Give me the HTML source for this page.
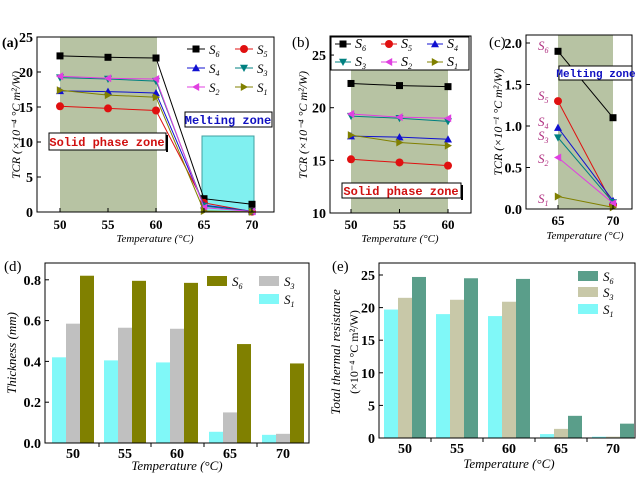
<!DOCTYPE html>
<html><head><meta charset="utf-8"><style>
body{margin:0;background:#fff}
svg{display:block}
text{font-family:"Liberation Serif",serif;font-weight:bold;fill:#000}
.it{font-style:italic;font-weight:normal}
</style></head><body>
<svg id="s" width="643" height="493" viewBox="0 0 643 493" xmlns="http://www.w3.org/2000/svg"></svg>
<script>
const S=document.getElementById('s');let h='';
const C={6:'#000',5:'#e01010',4:'#1010d0',3:'#008080',2:'#e040e0',1:'#808000'};
function mk(k,x,y,r){r=r||4;const c=C[k];
 if(k==6)return `<rect x="${x-3.5}" y="${y-3.5}" width="7" height="7" fill="${c}"/>`;
 if(k==5)return `<circle cx="${x}" cy="${y}" r="${r}" fill="${c}"/>`;
 if(k==4)return `<polygon points="${x},${y-r} ${x-r},${y+r*0.8} ${x+r},${y+r*0.8}" fill="${c}"/>`;
 if(k==3)return `<polygon points="${x},${y+r} ${x-r},${y-r*0.8} ${x+r},${y-r*0.8}" fill="${c}"/>`;
 if(k==2)return `<polygon points="${x-r},${y} ${x+r*0.8},${y-r} ${x+r*0.8},${y+r}" fill="${c}"/>`;
 return `<polygon points="${x+r},${y} ${x-r*0.8},${y-r} ${x-r*0.8},${y+r}" fill="${c}"/>`;}
function sub(x,y,n,col,fs){return `<text x="${x}" y="${y}" class="it" font-size="${fs||15}" style="fill:${col||'#000'}">S<tspan font-size="8" dy="3">${n}</tspan></text>`;}
function line(pts,k){return `<polyline points="${pts.map(p=>p.join(',')).join(' ')}" fill="none" stroke="${C[k]}" stroke-width="1"/>`+pts.map(p=>mk(k,p[0],p[1])).join('');}
const D={6:[22.3,22.1,22,1.9,1.1],5:[15.1,14.8,14.5,1.3,0.05],4:[17.3,17.2,17,0.98,0.1],3:[19.2,19,18.7,0.86,0.08],2:[19.4,19.1,19,0.62,0.07],1:[17.4,16.7,16.4,0.15,0.02]};
const G='#b7c3a3';
// ===== (a)
{const X=t=>60+(t-50)*9.6,Y=v=>212-v*7;
h+=`<rect x="60" y="37" width="97" height="175" fill="${G}"/>`;
h+=`<rect x="202" y="136" width="52" height="76" fill="#80f0f0" stroke="#40a0a0"/>`;
for(const k of [6,5,4,3,2,1])h+=line(D[k].map((v,i)=>[X(50+5*i),Y(v)]),k);
h+=`<rect x="37" y="37" width="237" height="175" fill="none" stroke="#000"/>`;
[0,5,10,15,20,25].forEach(v=>{h+=`<line x1="37" x2="41" y1="${Y(v)}" y2="${Y(v)}" stroke="#000"/><text x="33" y="${Y(v)+5}" font-size="14" text-anchor="end">${v}</text>`});
[50,55,60,65,70].forEach(t=>{h+=`<line x1="${X(t)}" x2="${X(t)}" y1="212" y2="208" stroke="#000"/><text x="${X(t)}" y="229" font-size="13" text-anchor="middle">${t}</text>`});
h+=`<text x="2" y="47" font-size="14">(a)</text>`;
h+=`<text x="155" y="242" class="it" font-size="11" text-anchor="middle">Temperature (°C)</text>`;
h+=`<text transform="translate(20,125) rotate(-90)" class="it" font-size="12" text-anchor="middle">TCR (×10⁻⁴ °C m²/W)</text>`;
const L=[[6,187,49],[5,235,49],[4,187,68],[3,235,68],[2,187,87],[1,235,87]];
L.forEach(([k,x,y])=>{h+=`<line x1="${x}" x2="${x+18}" y1="${y}" y2="${y}" stroke="${C[k]}"/>`+mk(k,x+9,y)+sub(x+22,y+5,k,0,13)});
h+=`<rect x="49" y="133" width="117" height="17" fill="#fff" stroke="#000"/><rect x="166" y="135" width="2" height="17" fill="#000"/><text x="107" y="146" font-size="12" text-anchor="middle" style="fill:#d01010;font-family:'Liberation Mono',monospace">Solid phase zone</text>`;
h+=`<rect x="185" y="112" width="87" height="15" fill="#fff" stroke="#000"/><text x="228" y="124" font-size="12" text-anchor="middle" style="fill:#1010c0;font-family:'Liberation Mono',monospace">Melting zone</text>`;}
// ===== (b)
{const X=t=>351+(t-50)*9.7,Y=v=>213-(v-10)*10.53;
h+=`<rect x="351" y="36" width="97" height="177" fill="${G}"/>`;
for(const k of [6,5,4,3,2,1])h+=line(D[k].slice(0,3).map((v,i)=>[X(50+5*i),Y(v)]),k);
h+=`<rect x="330" y="36" width="141" height="177" fill="none" stroke="#000"/>`;
h+=`<rect x="331" y="37" width="138" height="33" fill="#fff" stroke="#000"/>`;
const L=[[6,335,44],[5,381,44],[4,427,44],[3,335,62],[2,381,62],[1,427,62]];
L.forEach(([k,x,y])=>{h+=`<line x1="${x}" x2="${x+16}" y1="${y}" y2="${y}" stroke="${C[k]}"/>`+mk(k,x+8,y)+sub(x+20,y+4,k,0,14)});
[10,15,20,25].forEach(v=>{h+=`<line x1="330" x2="334" y1="${Y(v)}" y2="${Y(v)}" stroke="#000"/><text x="326" y="${Y(v)+5}" font-size="14" text-anchor="end">${v}</text>`});
[50,55,60].forEach(t=>{h+=`<line x1="${X(t)}" x2="${X(t)}" y1="213" y2="209" stroke="#000"/><text x="${X(t)}" y="229" font-size="13" text-anchor="middle">${t}</text>`});
h+=`<text x="292" y="47" font-size="15" style="font-weight:normal">(b)</text>`;
h+=`<text x="400" y="242" class="it" font-size="11" text-anchor="middle">Temperature (°C)</text>`;
h+=`<text transform="translate(307,125) rotate(-90)" class="it" font-size="12" text-anchor="middle">TCR (×10⁻⁴ °C m²/W)</text>`;
h+=`<rect x="342" y="183" width="119" height="15" fill="#fff" stroke="#000"/><rect x="461" y="185" width="2" height="15" fill="#000"/><text x="401" y="195" font-size="12" text-anchor="middle" style="fill:#d01010;font-family:'Liberation Mono',monospace">Solid phase zone</text>`;}
// ===== (c)
{const X=t=>558+(t-65)*11,Y=v=>209-v*83;
h+=`<rect x="558" y="35" width="55" height="174" fill="${G}"/>`;
for(const k of [6,5,4,3,2,1])h+=line(D[k].slice(3).map((v,i)=>[X(65+5*i),Y(v)]),k);
h+=`<rect x="526" y="35" width="106" height="174" fill="none" stroke="#000"/>`;
[0,0.5,1,1.5,2].forEach(v=>{h+=`<line x1="526" x2="530" y1="${Y(v)}" y2="${Y(v)}" stroke="#000"/><text x="522" y="${Y(v)+5}" font-size="14" text-anchor="end">${v.toFixed(1)}</text>`});
[65,70].forEach(t=>{h+=`<line x1="${X(t)}" x2="${X(t)}" y1="209" y2="205" stroke="#000"/><text x="${X(t)}" y="225" font-size="13" text-anchor="middle">${t}</text>`});
h+=`<text x="489" y="47" font-size="15" style="font-weight:normal">(c)</text>`;
h+=`<text x="585" y="239" class="it" font-size="11" text-anchor="middle">Temperature (°C)</text>`;
h+=`<text transform="translate(502,122) rotate(-90)" class="it" font-size="12" text-anchor="middle">TCR (×10⁻¹ °C m²/W)</text>`;
[[6,50],[5,100],[4,126],[3,140],[2,163],[1,203]].forEach(([k,y])=>h+=sub(538,y,k,'#b03080',13));
h+=`<rect x="559" y="66" width="73" height="14" fill="#fff" stroke="#000"/><text x="596" y="77" font-size="11" text-anchor="middle" style="fill:#1010c0;font-family:'Liberation Mono',monospace">Melting zone</text>`;}
// ===== bars
function bars(o){let s='';const cs=o.cols;
 o.cen.forEach((cx,i)=>{o.vals.forEach((vs,j)=>{const x=cx-21+j*14,y=o.Y(vs[i]);s+=`<rect x="${x}" y="${y}" width="14" height="${o.b-y}" fill="${cs[j]}"/>`})});
 s+=`<rect x="${o.l}" y="${o.t}" width="${o.r-o.l}" height="${o.b-o.t}" fill="none" stroke="#000"/>`;
 o.ticks.forEach(v=>{s+=`<line x1="${o.l}" x2="${o.l+4}" y1="${o.Y(v)}" y2="${o.Y(v)}" stroke="#000"/><text x="${o.l-4}" y="${o.Y(v)+5}" font-size="14" text-anchor="end">${o.fmt(v)}</text>`});
 o.cen.forEach((cx,i)=>{s+=`<text x="${cx}" y="${o.b+15}" font-size="14" text-anchor="middle">${50+5*i}</text>`;if(i)s+=`<line x1="${cx-26}" x2="${cx-26}" y1="${o.b}" y2="${o.b+4}" stroke="#000"/>`});
 return s;}
// (d)
{const Y=v=>443-v*204;
h+=bars({cen:[73,125,177,230,283],vals:[[.42,.405,.395,.055,.04],[.585,.565,.56,.15,.045],[.82,.795,.785,.485,.39]],cols:['#80f8f8','#c0c0c0','#808000'],Y,b:443,t:263,l:45,r:309,ticks:[0,.2,.4,.6,.8],fmt:v=>v.toFixed(1)});
h+=`<text x="4" y="271" font-size="15" style="font-weight:normal">(d)</text>`;
h+=`<text x="177" y="470" class="it" font-size="13" text-anchor="middle">Temperature (°C)</text>`;
h+=`<text transform="translate(16,353) rotate(-90)" class="it" font-size="13" text-anchor="middle">Thickness (mm)</text>`;
h+=`<rect x="207" y="276" width="20" height="10" fill="#808000"/>`+sub(232,286,6,0,13);
h+=`<rect x="259" y="276" width="20" height="10" fill="#c0c0c0"/>`+sub(284,286,3,0,13);
h+=`<rect x="259" y="294" width="20" height="10" fill="#80f8f8"/>`+sub(284,304,1,0,13);}
// (e)
{const Y=v=>438-v*6.52;
h+=bars({cen:[405,457,509,561,613],vals:[[19.7,19,18.7,.6,.2],[21.5,21.2,20.9,1.4,.2],[24.7,24.5,24.4,3.4,2.2]],cols:['#80f8f8','#c8c8a8','#5a9e8a'],Y,b:438,t:263,l:379,r:635,ticks:[0,5,10,15,20,25],fmt:v=>v});
h+=`<text x="332" y="271" font-size="15" style="font-weight:normal">(e)</text>`;
h+=`<text x="509" y="468" class="it" font-size="13" text-anchor="middle">Temperature (°C)</text>`;
h+=`<text transform="translate(340,352) rotate(-90)" class="it" font-size="13" text-anchor="middle">Total thermal resistance</text>`;
h+=`<text transform="translate(358,352) rotate(-90)" font-size="12" text-anchor="middle" style="font-weight:normal">(×10⁻⁴ °C m²/W)</text>`;
h+=`<rect x="578" y="271" width="20" height="10" fill="#5a9e8a"/>`+sub(603,281,6,0,13);
h+=`<rect x="578" y="287" width="20" height="10" fill="#c8c8a8"/>`+sub(603,297,3,0,13);
h+=`<rect x="578" y="304" width="20" height="10" fill="#80f8f8"/>`+sub(603,314,1,0,13);}
S.innerHTML=h;
</script>
</body></html>
